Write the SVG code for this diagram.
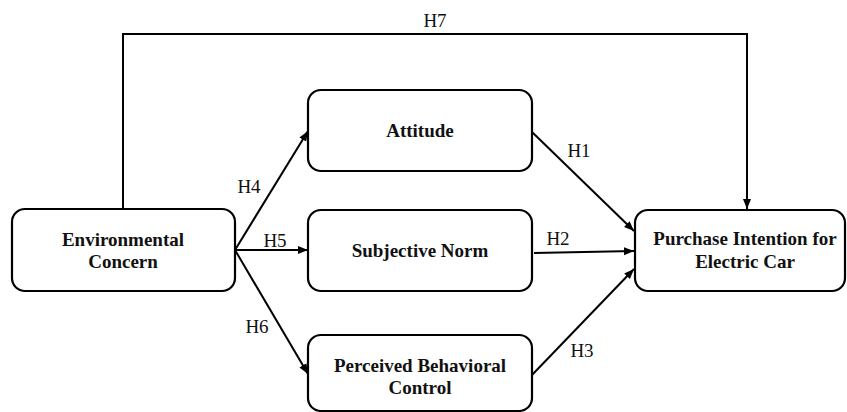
<svg xmlns="http://www.w3.org/2000/svg" width="847" height="412" viewBox="0 0 847 412">
<style>
.box{fill:#fff;stroke:#000;stroke-width:2.2}
.t{font-family:Liberation Serif,DejaVu Serif,serif;font-size:19px;font-weight:bold;fill:#111;text-anchor:middle}
.l{font-family:Liberation Serif,DejaVu Serif,serif;font-size:19px;fill:#111;text-anchor:middle}
.c{fill:none;stroke:#000;stroke-width:2}
</style>
<defs>
<marker id="ah" viewBox="0 0 10 10" refX="10" refY="5" markerWidth="5" markerHeight="5" orient="auto" markerUnits="strokeWidth">
<path d="M0,1 L10,5 L0,9 z" fill="#000"/>
</marker>
</defs>
<rect width="847" height="412" fill="#fff"/>
<g id="connectors">
<path class="c" d="M123,209 V34 H747 V209" marker-end="url(#ah)"/>
<line class="c" x1="235" y1="250" x2="308" y2="131" marker-end="url(#ah)"/>
<line class="c" x1="235" y1="250" x2="308" y2="250" marker-end="url(#ah)"/>
<line class="c" x1="235" y1="250" x2="308" y2="374" marker-end="url(#ah)"/>
<line class="c" x1="532" y1="132" x2="634" y2="231" marker-end="url(#ah)"/>
<line class="c" x1="534" y1="253" x2="634" y2="251" marker-end="url(#ah)"/>
<line class="c" x1="532" y1="375" x2="634" y2="269" marker-end="url(#ah)"/>
<text class="l" x="435" y="27">H7</text>
<text class="l" x="249" y="193">H4</text>
<text class="l" x="275" y="247">H5</text>
<text class="l" x="257" y="333">H6</text>
<text class="l" x="579" y="157">H1</text>
<text class="l" x="558" y="245">H2</text>
<text class="l" x="582" y="357">H3</text>
</g>
<g id="environmental-concern">
<rect class="box" x="12" y="209" width="223" height="82" rx="13"/>
<text class="t" x="123" y="246">Environmental</text>
<text class="t" x="123" y="268">Concern</text>
</g>
<g id="attitude">
<rect class="box" x="308" y="90" width="224" height="81" rx="13"/>
<text class="t" x="420" y="137">Attitude</text>
</g>
<g id="subjective-norm">
<rect class="box" x="308" y="210" width="224" height="81" rx="13"/>
<text class="t" x="420" y="257">Subjective Norm</text>
</g>
<g id="perceived-behavioral-control">
<rect class="box" x="308" y="335" width="224" height="76" rx="13"/>
<text class="t" x="420" y="372">Perceived Behavioral</text>
<text class="t" x="420" y="394">Control</text>
</g>
<g id="purchase-intention">
<rect class="box" x="635" y="210" width="210" height="81" rx="13"/>
<text class="t" x="745" y="245">Purchase Intention for</text>
<text class="t" x="745" y="268">Electric Car</text>
</g>
</svg>
